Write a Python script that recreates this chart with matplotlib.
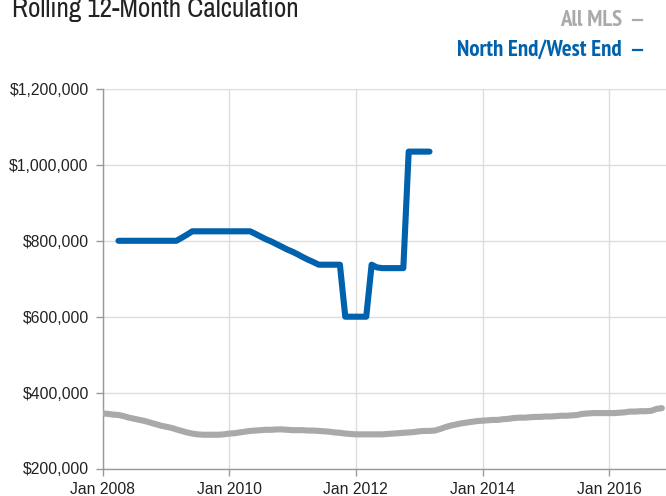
import numpy as np
import pandas as pd
import matplotlib
matplotlib.use("Agg")
import matplotlib.pyplot as plt
import matplotlib.dates as mdates
from matplotlib import font_manager
from matplotlib.font_manager import FontProperties
from matplotlib.lines import Line2D
from matplotlib.ticker import FuncFormatter

# monthly values, Jan 2008 .. Nov 2016 (in $1000s)
all_mls = [345, 344, 342, 341, 338, 334, 331, 328, 325, 321, 317, 313,
           310, 307, 303, 299, 295, 292, 290, 289, 289, 289, 289, 290,
           292, 293, 295, 297, 299, 300, 301, 302, 302, 303, 303, 302,
           301, 301, 301, 300, 300, 299, 298, 297, 295, 294, 292, 291,
           290, 290, 290, 290, 290, 290, 291, 292, 293, 294, 295, 296,
           298, 299, 299, 300, 304, 309, 313, 316, 319, 321, 323, 325,
           326, 327, 328, 328, 330, 331, 333, 334, 334, 335, 336, 336,
           337, 337, 338, 339, 339, 340, 341, 344, 345, 346, 346, 346,
           346, 346, 347, 348, 350, 350, 351, 351, 352, 357, 359]

# North End/West End, Apr 2008 .. Mar 2013 (in $1000s)
north_end = [800, 800, 800, 800, 800, 800, 800, 800, 800, 800, 800, 800,
             808, 816, 825, 825, 825, 825, 825, 825, 825, 825, 825, 825,
             825, 825, 818, 811, 804, 798, 791, 784, 777, 771, 764, 757,
             750, 744, 737, 737, 737, 737, 737, 600, 600, 600, 600, 600,
             737, 730, 728, 728, 728, 728, 728, 1035, 1035, 1035, 1035, 1035]

mls_dates = pd.date_range("2008-01-01", periods=len(all_mls), freq="MS")
ne_dates = pd.date_range("2008-04-01", periods=len(north_end), freq="MS")

plt.rcParams["font.family"] = ["Liberation Sans", "DejaVu Sans"]


def find_condensed(bold=False):
    # look for a narrow / condensed face, the header font is a condensed sans
    best = None
    for f in font_manager.fontManager.ttflist:
        if f.style != "normal":
            continue
        w = f.weight if isinstance(f.weight, int) else 400
        if (w >= 600) != bold:
            continue
        if "Narrow" in f.name or "Condensed" in f.name or f.stretch in ("condensed", "semi-condensed", 375):
            if "Narrow" in f.name:
                return f.fname
            if best is None:
                best = f.fname
    return best


reg_path = find_condensed(False)
bold_path = find_condensed(True)
if reg_path:
    title_fp = FontProperties(fname=reg_path, size=19.5)
else:
    title_fp = FontProperties(family="Liberation Sans", size=16)
if bold_path:
    legend_fp = FontProperties(fname=bold_path, size=16.5)
else:
    legend_fp = FontProperties(family="Liberation Sans", weight="bold", size=12.5)

blue = "#0061ad"
gray = "#a9a9a9"

fig = plt.figure(figsize=(6.66, 4.96), dpi=100)
ax = fig.add_axes([102.7 / 666, 1 - 468.5 / 496, 1 - 102.7 / 666, (468.5 - 89) / 496])

ax.plot(mls_dates, np.array(all_mls) * 1000, color=gray, lw=4.4,
        solid_joinstyle="round", solid_capstyle="round", zorder=3)
ax.plot(ne_dates, np.array(north_end) * 1000, color=blue, lw=4.4,
        solid_joinstyle="round", solid_capstyle="round", zorder=4)

ax.set_ylim(200000, 1200000)
ax.set_yticks(np.arange(200000, 1200001, 200000))
ax.yaxis.set_major_formatter(FuncFormatter(lambda v, p: "${:,.0f}".format(v)))
ax.set_xlim(pd.Timestamp("2008-01-01"), pd.Timestamp("2016-11-25"))
ax.xaxis.set_major_locator(mdates.YearLocator(2, month=1, day=1))
ax.xaxis.set_major_formatter(mdates.DateFormatter("Jan %Y"))

ax.grid(True, color="#dddddd", lw=1)
ax.set_axisbelow(True)
for s in ["top", "right"]:
    ax.spines[s].set_visible(False)
for s in ["left", "bottom"]:
    ax.spines[s].set_color("#999999")
    ax.spines[s].set_linewidth(1)
ax.tick_params(axis="both", length=5, width=1, color="#999999",
               labelsize=11.3, labelcolor="#222222")
ax.tick_params(axis="x", pad=4.5)
ax.tick_params(axis="y", pad=5)

fig.text(12 / 666, 1 - 17 / 496, "Rolling 12-Month Calculation", fontproperties=title_fp,
         color="#222222", ha="left", va="baseline")
fig.text(622 / 666, 1 - 20 / 496, "All MLS", fontproperties=legend_fp,
         color="#aaaaaa", ha="right", va="center")
fig.text(622 / 666, 1 - 50 / 496, "North End/West End", fontproperties=legend_fp,
         color=blue, ha="right", va="center")
fig.add_artist(Line2D([633 / 666, 642 / 666], [1 - 20 / 496, 1 - 20 / 496],
                      color="#aaaaaa", lw=1.6, transform=fig.transFigure))
fig.add_artist(Line2D([633 / 666, 642 / 666], [1 - 50 / 496, 1 - 50 / 496],
                      color=blue, lw=1.6, transform=fig.transFigure))

fig.savefig("out.png", dpi=100)
